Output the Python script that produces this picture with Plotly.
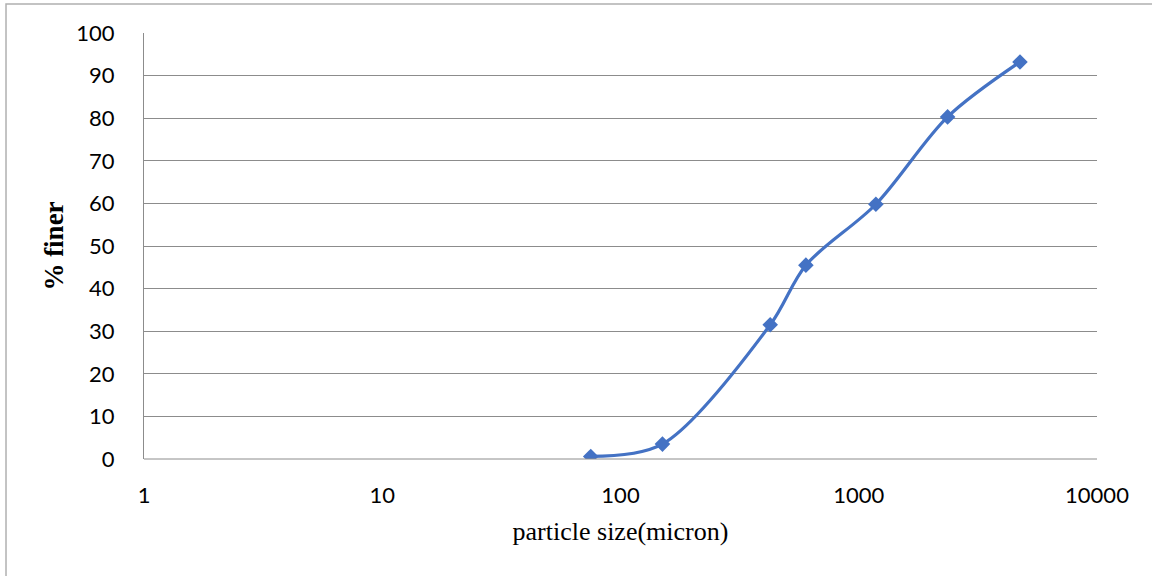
import plotly.graph_objects as go

particle_size = [75, 150, 425, 600, 1180, 2360, 4750]
percent_finer = [0.6, 3.5, 31.5, 45.5, 59.8, 80.3, 93.2]
x_ticks = [1, 10, 100, 1000, 10000]
x_tick_labels = ["1", "10", "100", "1000", "10000"]

fig = go.Figure()
fig.add_trace(go.Scatter(
    x=particle_size, y=percent_finer, mode="lines+markers",
    line=dict(color="#4472C4", width=3.2, shape="spline", smoothing=0.9),
    marker=dict(symbol="diamond", size=12, color="#4472C4"),
    showlegend=False,
))

fig.update_layout(
    width=1152, height=576,
    margin=dict(l=144, r=55, t=33, b=117),
    paper_bgcolor="white", plot_bgcolor="white",
    font=dict(family="Lato, Open Sans, sans-serif", size=22, color="black"),
    xaxis=dict(
        type="log", range=[0, 4], tickvals=x_ticks, ticktext=x_tick_labels,
        showgrid=False, zeroline=False, showline=False,
        ticks="", ticklabelstandoff=21,
        title=dict(text="particle size(micron)",
                   font=dict(family="Liberation Serif, Times New Roman, serif", size=26),
                   standoff=14),
    ),
    yaxis=dict(
        range=[0, 100], dtick=10, showgrid=True, gridcolor="#8c8c8c", gridwidth=1,
        zeroline=False, showline=True, linecolor="#8c8c8c", linewidth=1,
        ticks="", ticklabelstandoff=24,
        title=dict(text="<b>% finer</b>",
                   font=dict(family="Liberation Serif, Times New Roman, serif", size=27),
                   standoff=4),
    ),
    shapes=[
        dict(type="line", xref="paper", yref="paper", x0=0, x1=1, y0=0, y1=0,
             line=dict(color="#8c8c8c", width=1)),
        dict(type="rect", xref="paper", yref="paper",
             x0=-0.1448, x1=1.2, y0=-0.4, y1=1.068,
             line=dict(color="#b0b0b0", width=1.5), layer="below"),
    ],
)

fig.write_html("out.html", config={"displayModeBar": False},
               post_script="document.body.style.margin='0';")
